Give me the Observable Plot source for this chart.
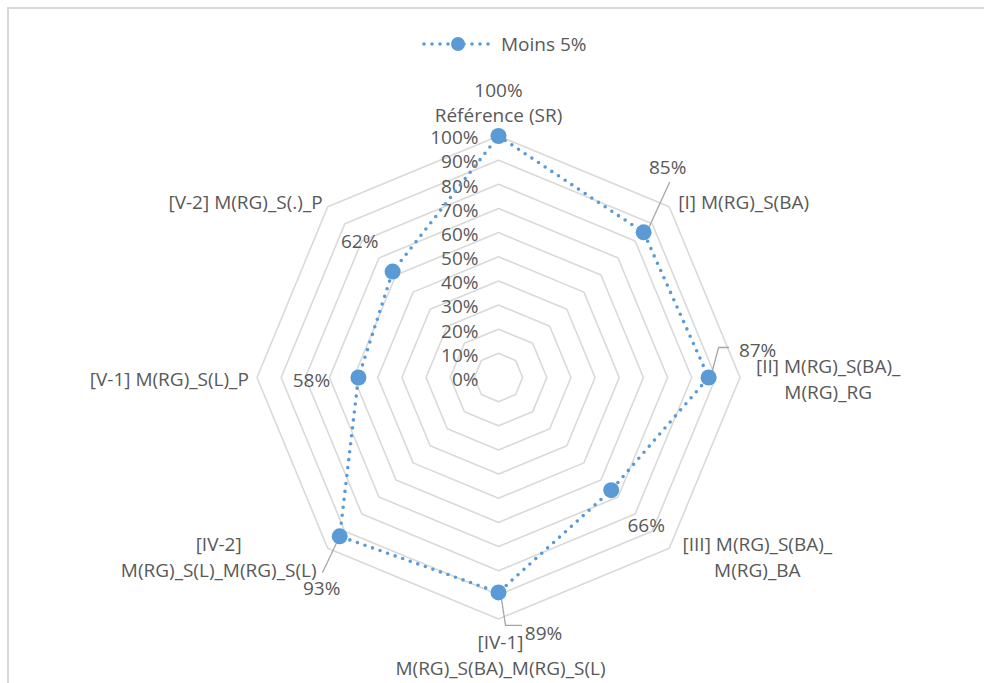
<!DOCTYPE html>
<html>
<head>
<meta charset="utf-8">
<script src="https://cdn.jsdelivr.net/npm/d3@7"></script>
<script src="https://cdn.jsdelivr.net/npm/@observablehq/plot@0.6"></script>
<style>
  html, body { margin: 0; padding: 0; background: #fff; }
  #wrap { position: relative; width: 984px; height: 683px; overflow: hidden; font-family: "Open Sans", sans-serif; }
  #chart { position: absolute; left: 0; top: 0; }
  #frame { position: absolute; left: 7px; top: 7px; width: 1100px; height: 800px; border: 2px solid #d9d9d9; box-sizing: border-box; pointer-events: none; }
  #legend { position: absolute; left: 420px; top: 30px; height: 28px; display: flex; align-items: center; font-size: 19px; color: #595959; }
  #legend svg { margin-right: 9px; }
</style>
</head>
<body>
<div id="wrap">
  <div id="chart"></div>
  <div id="frame"></div>
  <div id="legend"></div>
</div>
<script>
// ---- data ----
const categories = [
  "Référence (SR)",
  "[I] M(RG)_S(BA)",
  "[II] M(RG)_S(BA)_\nM(RG)_RG",
  "[III] M(RG)_S(BA)_\nM(RG)_BA",
  "[IV-1]\nM(RG)_S(BA)_M(RG)_S(L)",
  "[IV-2]\nM(RG)_S(L)_M(RG)_S(L)",
  "[V-1] M(RG)_S(L)_P",
  "[V-2] M(RG)_S(.)_P"
];
const values = [1.00, 0.85, 0.87, 0.66, 0.89, 0.93, 0.58, 0.62];
const seriesName = "Moins 5%";
const tickLevels = [0, 0.1, 0.2, 0.3, 0.4, 0.5, 0.6, 0.7, 0.8, 0.9, 1.0];
const ringLevels = [0.1, 0.2, 0.3, 0.4, 0.5, 0.6, 0.7, 0.8, 0.9, 1.0];

// ---- layout (pixel offsets, styles) ----
const W = 984, H = 683, CX = 498, CY = 377, R = 241.5;
const color = "#5b9bd5", gridColor = "#d9d9d9", textColor = "#595959";
const fontSize = 19;
const catLayout = [
  {r: 1.1, anchor: "middle", dx: 0,   dy: 2},
  {r: 1.1, anchor: "start",  dx: -8,  dy: 11},
  {r: 1.1, anchor: "middle", dx: 64,  dy: 0},
  {r: 1.1, anchor: "middle", dx: 71,  dy: -10},
  {r: 1.1, anchor: "middle", dx: 2,   dy: 11},
  {r: 1.1, anchor: "middle", dx: -92, dy: -10},
  {r: 1.1, anchor: "end",    dx: 16,  dy: 0},
  {r: 1.1, anchor: "end",    dx: 12,  dy: 11}
];
const valueLabelOffsets = [[0,-47.5],[24,-67],[49,-29],[35,33],[45,39],[-18,50],[-47,1],[-33,-32]];
const leaderOffsets = [
  [],
  [[26,-50],[4,-2]],
  [[20,-30],[10,-30],[3,-4]],
  [],
  [[2,0],[7,33],[23,33]],
  [[0,0],[-17,36]],
  [],
  []
];

// ---- geometry helpers (value space: radius 1 = 100%) ----
const n = categories.length;
const angle = i => (i * 2 * Math.PI) / n;
const px = (i, r) => r * Math.sin(angle(i));
const py = (i, r) => r * Math.cos(angle(i));
const off = (v, d) => v + d / R; // pixel offset -> value units

const rings = ringLevels.flatMap(l => d3.range(n).map(i => ({level: l, x: px(i, l), y: py(i, l)})));
const pts = values.map((v, i) => ({i, v, x: px(i, v), y: py(i, v)}));
const ticks = tickLevels.map(t => ({t, x: 0, y: t, label: Math.round(t * 100) + "%"}));
const cats = categories.map((c, i) => {
  const L = catLayout[i];
  return {label: c, anchor: L.anchor, x: off(px(i, L.r), L.dx), y: off(py(i, L.r), -L.dy)};
});
const vlabels = pts.map(p => ({label: Math.round(p.v * 100) + "%",
  x: off(p.x, valueLabelOffsets[p.i][0]), y: off(p.y, -valueLabelOffsets[p.i][1])}));
const leaders = pts.flatMap(p => leaderOffsets[p.i].map(([dx, dy], k) => ({g: p.i, k, x: off(p.x, dx), y: off(p.y, -dy)})));

const textCommon = {fontSize, fill: textColor, fontFamily: "Open Sans, sans-serif", lineAnchor: "middle", lineHeight: 1.37};

const chart = Plot.plot({
  width: W, height: H, margin: 0,
  x: {domain: [-CX / R, (W - CX) / R], axis: null},
  y: {domain: [-(H - CY) / R, CY / R], axis: null},
  style: {background: "transparent", overflow: "visible"},
  marks: [
    Plot.line(rings, {x: "x", y: "y", z: "level", curve: "linear-closed", stroke: gridColor, strokeWidth: 1.6}),
    Plot.text(ticks, {x: "x", y: "y", text: "label", textAnchor: "end", dx: -20, ...textCommon}),
    Plot.line(leaders, {x: "x", y: "y", z: "g", stroke: "#a6a6a6", strokeWidth: 1.3}),
    Plot.line(pts, {x: "x", y: "y", curve: "linear-closed", stroke: color, strokeWidth: 3.6,
      strokeDasharray: "0 8", strokeLinecap: "round"}),
    Plot.dot(pts, {x: "x", y: "y", r: 8, fill: color, stroke: null}),
    Plot.text(cats.filter(c => c.anchor === "start"), {x: "x", y: "y", text: "label", textAnchor: "start", ...textCommon}),
    Plot.text(cats.filter(c => c.anchor === "middle"), {x: "x", y: "y", text: "label", textAnchor: "middle", ...textCommon}),
    Plot.text(cats.filter(c => c.anchor === "end"), {x: "x", y: "y", text: "label", textAnchor: "end", ...textCommon}),
    Plot.text(vlabels, {x: "x", y: "y", text: "label", textAnchor: "middle", ...textCommon})
  ]
});
document.getElementById("chart").appendChild(chart);

// legend
const leg = document.getElementById("legend");
const ls = d3.create("svg").attr("width", 72).attr("height", 20);
ls.append("line").attr("x1", 4).attr("x2", 70).attr("y1", 10).attr("y2", 10)
  .attr("stroke", color).attr("stroke-width", 3.6).attr("stroke-linecap", "round").attr("stroke-dasharray", "0 8");
ls.append("circle").attr("cx", 38).attr("cy", 10).attr("r", 7).attr("fill", color);
leg.appendChild(ls.node());
const lt = document.createElement("span");
lt.textContent = seriesName;
leg.appendChild(lt);
</script>
</body>
</html>
